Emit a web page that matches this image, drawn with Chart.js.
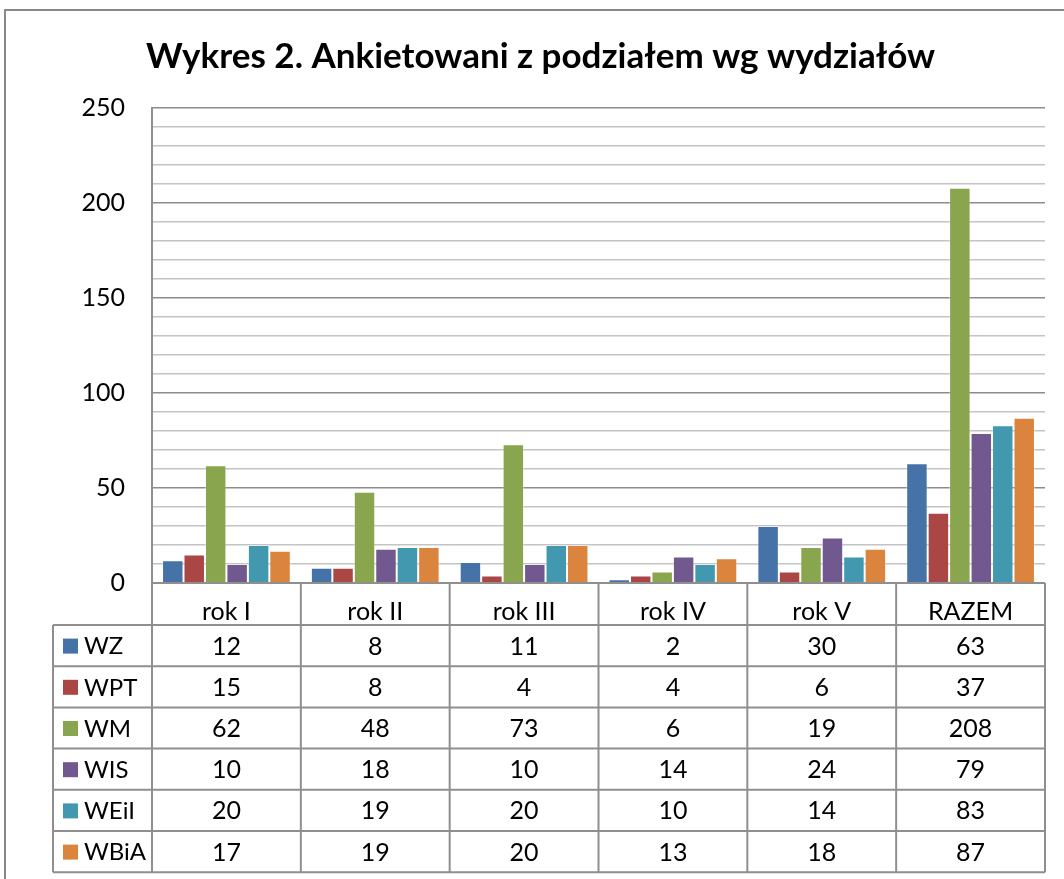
<!DOCTYPE html>
<html>
<head>
<meta charset="utf-8">
<title>Wykres 2</title>
<script src="https://cdn.jsdelivr.net/npm/chart.js@4"></script>
<style>
  body { margin: 0; background: #fff; }
  canvas { display: block; }
</style>
</head>
<body>
<canvas id="chart" width="1064" height="879"></canvas>
<script>
// data
const categories = ["rok I", "rok II", "rok III", "rok IV", "rok V", "RAZEM"];
const seriesNames = ["WZ", "WPT", "WM", "WIS", "WEiI", "WBiA"];
const wz = [12, 8, 11, 2, 30, 63];
const wpt = [15, 8, 4, 4, 6, 37];
const wm = [62, 48, 73, 6, 19, 208];
const wis = [10, 18, 10, 14, 24, 79];
const weii = [20, 19, 20, 10, 14, 83];
const wbia = [17, 19, 20, 13, 18, 87];
const colors = ["#4572A7", "#AA4643", "#89A54E", "#71588F", "#4198AF", "#DB843D"];

const FONT = "Lato, 'Open Sans', sans-serif";
const LINE = "#8f8f8f";

// draws the data table under the plot, plus the outer frame
const dataTable = {
  id: "dataTable",
  afterDraw(chart) {
    const ctx = chart.ctx;
    const x = chart.scales.x;
    const area = chart.chartArea;
    const colW = x.width / categories.length;
    const top = area.bottom;
    const headH = 42;
    const rowH = 41.2;
    const tableLeft = 53;
    const rowsTop = top + headH;
    const bottom = rowsTop + rowH * seriesNames.length;

    ctx.save();
    ctx.strokeStyle = LINE;
    ctx.lineWidth = 2;
    ctx.beginPath();
    // header row top line (x axis)
    ctx.moveTo(area.left, top);
    ctx.lineTo(area.right, top);
    // row lines
    for (let r = 0; r <= seriesNames.length; r++) {
      const y = rowsTop + r * rowH;
      ctx.moveTo(tableLeft, y);
      ctx.lineTo(area.right, y);
    }
    // column lines
    for (let c = 0; c <= categories.length; c++) {
      const xx = area.left + c * colW;
      ctx.moveTo(xx, top);
      ctx.lineTo(xx, bottom);
    }
    ctx.moveTo(tableLeft, rowsTop);
    ctx.lineTo(tableLeft, bottom);
    ctx.stroke();

    ctx.textBaseline = "middle";
    chart.data.datasets.forEach((ds, r) => {
      const cy = rowsTop + r * rowH + rowH / 2;
      // legend key
      ctx.fillStyle = ds.backgroundColor;
      ctx.fillRect(tableLeft + 10, cy - 7, 15, 15);
      ctx.fillStyle = "#000";
      ctx.textAlign = "left";
      ctx.font = "24px " + FONT;
      ctx.fillText(ds.label, tableLeft + 31, cy + 1);
      ctx.textAlign = "center";
      ctx.font = "25px " + FONT;
      ds.data.forEach((v, i) => {
        ctx.fillText(String(v), x.getPixelForValue(i), cy + 1);
      });
    });

    // outer chart frame
    ctx.strokeStyle = "#888";
    ctx.lineWidth = 2;
    ctx.beginPath();
    ctx.moveTo(5, chart.height + 5);
    ctx.lineTo(5, 10);
    ctx.lineTo(chart.width + 5, 10);
    ctx.stroke();
    ctx.restore();
  }
};

const datasets = [wz, wpt, wm, wis, weii, wbia].map((vals, i) => ({
  label: seriesNames[i],
  data: vals,
  backgroundColor: colors[i],
  borderColor: "rgba(255,255,255,0.35)",
  borderWidth: 1,
  categoryPercentage: 0.865,
  barPercentage: 1
}));

new Chart(document.getElementById("chart"), {
  type: "bar",
  data: { labels: categories, datasets: datasets },
  plugins: [dataTable],
  options: {
    responsive: false,
    animation: false,
    layout: { padding: { left: 36, right: 19, top: 0, bottom: 0 } },
    plugins: {
      legend: { display: false },
      tooltip: { enabled: false },
      title: {
        display: true,
        text: "Wykres 2. Ankietowani z podziałem wg wydziałów",
        color: "#000",
        font: { family: FONT, size: 35, weight: "bold" },
        padding: { top: 36, bottom: 30 }
      }
    },
    scales: {
      x: {
        grid: { display: false },
        border: { display: false },
        ticks: { color: "#000", font: { family: FONT, size: 25 }, padding: 6 },
        afterFit(scale) { scale.height = 296; }
      },
      y: {
        min: 0,
        max: 250,
        afterFit(scale) { scale.width = 116; },
        border: { display: true, color: LINE, width: 2 },
        grid: {
          drawTicks: false,
          color: (c) => (c.tick.value % 50 === 0 ? "#8c8c8c" : "#c4c4c4"),
          lineWidth: 1.5
        },
        ticks: {
          stepSize: 10,
          autoSkip: false,
          padding: 27,
          color: "#000",
          font: { family: FONT, size: 25 },
          callback: (v) => (v % 50 === 0 ? v : "")
        }
      }
    }
  }
});
</script>
</body>
</html>
